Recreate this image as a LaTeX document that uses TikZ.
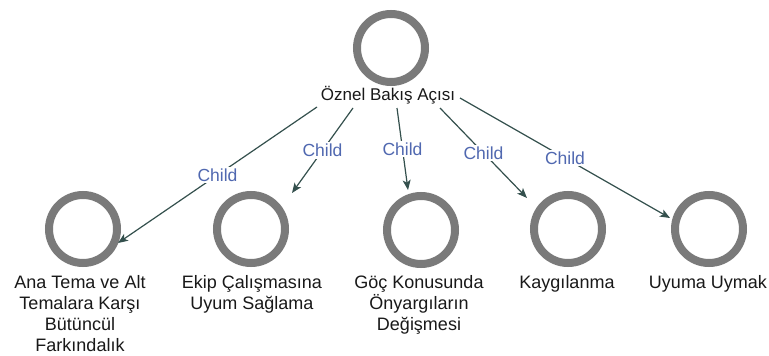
\documentclass[tikz,border=0pt]{standalone}
\usepackage{fontspec}
\setmainfont{Liberation Sans}
\usetikzlibrary{arrows.meta,calc}
\definecolor{ringc}{HTML}{7A7A7A}
\definecolor{edgec}{HTML}{34504D}
\definecolor{childc}{HTML}{5068B0}
\begin{document}
\begin{tikzpicture}[x=1pt,y=-1pt,
  ring/.style={circle,draw=ringc,line width=8pt,minimum size=68pt,inner sep=0pt},
  lbl/.style={font=\fontsize{18}{21}\selectfont,align=center,anchor=base,inner sep=0pt,text=black!90},
  edgearrow/.style={draw=edgec,line width=1.2pt,-{Stealth[length=10pt,width=8pt,inset=2.5pt]}},
  childlbl/.style={font=\fontsize{17.5}{20}\selectfont,text=childc,fill=white,inner sep=2pt}]
\useasboundingbox (0,0) rectangle (769,356);
\fill[white] (0,0) rectangle (769,356);
% root
\node[ring] (root) at (391,48) {};
\node[lbl,font=\fontsize{17}{21}\selectfont] (rootl) at (388,100) {Öznel Bakış Açısı};
% children
\node[ring] (c1) at (83,229) {};
\node[ring] (c2) at (251,229) {};
\node[ring] (c3) at (421,230) {};
\node[ring] (c4) at (568,229) {};
\node[ring] (c5) at (709,229) {};
% multi-line labels: base anchor is on the last line
\node[lbl] (l1) at (80,351) {Ana Tema ve Alt\\Temalara Karşı\\Bütüncül\\Farkındalık};
\node[lbl] (l2) at (252,309) {Ekip Çalışmasına\\Uyum Sağlama};
\node[lbl] (l3) at (419,330) {Göç Konusunda\\Önyargıların\\Değişmesi};
\node[lbl] (l4) at (567,288) {Kaygılanma};
\node[lbl] (l5) at (708,288) {Uyuma Uymak};
% connector ends
\coordinate (s1) at ($(rootl.base)+(-71,7)$);
\coordinate (s2) at ($(rootl.base)+(-35,8)$);
\coordinate (s3) at ($(rootl.base)+(9,8)$);
\coordinate (s4) at ($(rootl.base)+(52,8)$);
\coordinate (s5) at ($(rootl.base)+(72,-2)$);
\coordinate (t1) at ($(c1.center)+(35,14)$);
\coordinate (t2) at ($(c2.center)+(41,-36)$);
\coordinate (t3) at ($(c3.center)+(-13,-40)$);
\coordinate (t4) at ($(c4.center)+(-41,-31)$);
\coordinate (t5) at ($(c5.center)+(-39,-11)$);
\draw[edgearrow] (s1) -- node[childlbl] {Child} (t1);
\draw[edgearrow] (s2) -- node[childlbl] {Child} (t2);
\draw[edgearrow] (s3) -- node[childlbl] {Child} (t3);
\draw[edgearrow] (s4) -- node[childlbl] {Child} (t4);
\draw[edgearrow] (s5) -- node[childlbl] {Child} (t5);
\end{tikzpicture}
\end{document}
